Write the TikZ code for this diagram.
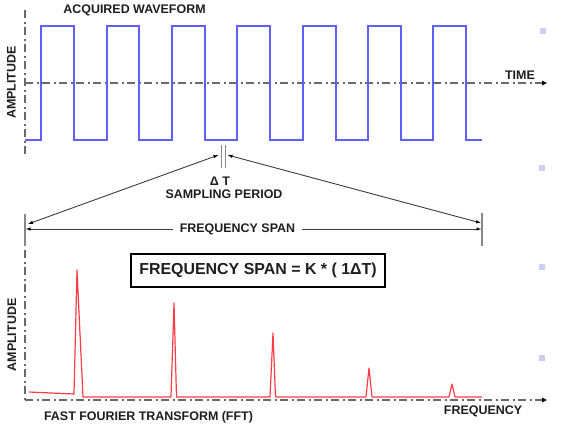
\documentclass[tikz,border=0pt]{standalone}
\usepackage{fontspec}
\setmainfont{Liberation Sans}
\usetikzlibrary{arrows.meta}
\definecolor{wave}{RGB}{95,95,250}
\definecolor{spec}{RGB}{255,60,70}
\definecolor{axisgray}{RGB}{105,105,105}
\definecolor{txt}{RGB}{30,30,30}
\definecolor{dotc}{RGB}{205,205,245}
\definecolor{arrowgray}{RGB}{60,60,60}
\begin{document}
\begin{tikzpicture}[x=1bp,y=-1bp,
  lbl/.style={font=\bfseries\fontsize{12.5}{14}\selectfont, text=txt, inner sep=0pt},
  dashdot/.style={draw=axisgray, line width=1.3bp, dash pattern=on 8bp off 3.5bp on 2bp off 3.5bp},
  axarrow/.style={-{Triangle[length=5bp,width=4.5bp,color=black]}},
  dimarrow/.style={draw=arrowgray, line width=0.9bp, {Latex[length=5bp,width=3.5bp,color=black]}-{Latex[length=5bp,width=3.5bp,color=black]}},
  tickline/.style={draw=axisgray!80, line width=1.1bp},
  wavepath/.style={draw=wave, line width=1.3bp},
  specpath/.style={draw=spec, line width=1.2bp},
  marker/.style={fill=dotc, draw=none, minimum size=6bp, inner sep=0pt}
]
\useasboundingbox (0,0) rectangle (566,432);

% ---------- top: acquired waveform ----------
\coordinate (tya) at (25,10);
\coordinate (tyb) at (25,155);
\coordinate (txa) at (25,83);
\coordinate (txb) at (547,83);
\draw[dashdot] (tya) -- (tyb);
\draw[dashdot, axarrow] (txa) -- (txb);

\draw[wavepath] (25,140) -- (41,140) -- (41,26) -- (74,26) -- (74,140)
  -- (107,140) -- (107,26) -- (139,26) -- (139,140)
  -- (172,140) -- (172,26) -- (205,26) -- (205,140)
  -- (237,140) -- (237,26) -- (270,26) -- (270,140)
  -- (303,140) -- (303,26) -- (336,26) -- (336,140)
  -- (368,140) -- (368,26) -- (401,26) -- (401,140)
  -- (433,140) -- (433,26) -- (466,26) -- (466,140) -- (482,140);

\node[lbl] (acq) at (134.5,10) {ACQUIRED WAVEFORM};
\node[lbl] (time) at (520,75) {TIME};
\node[lbl, rotate=90] (amp1) at (11.5,82.5) {AMPLITUDE};

% ---------- sampling period ----------
\coordinate (d1a) at (221,145);
\coordinate (d1b) at (221,168);
\coordinate (d2a) at (225,145);
\coordinate (d2b) at (225,168);
\draw[tickline, line width=0.9bp] (d1a) -- (d1b);
\draw[tickline, line width=0.9bp] (d2a) -- (d2b);

\node[lbl] (dt) at (220,181) {Δ T};
\node[lbl] (sp) at (224,194) {SAMPLING PERIOD};

\coordinate (lt) at (28,224);
\coordinate (lp) at (218.5,155);
\coordinate (rp) at (227.5,155);
\coordinate (rt) at (481,223);
\draw[dimarrow] (lt) -- (lp);
\draw[dimarrow] (rp) -- (rt);

% ---------- frequency span ----------
\coordinate (ta) at (25,214);
\coordinate (tb) at (25,246);
\coordinate (tc) at (482,213);
\coordinate (td) at (482,246);
\draw[tickline] (ta) -- (tb);
\draw[tickline] (tc) -- (td);
\coordinate (sl) at (25.5,229);
\coordinate (sr) at (481.5,229);
\node[lbl, inner xsep=7bp] (fs) at (237.5,229) {FREQUENCY SPAN};
\draw[dimarrow, {Latex[length=5bp,width=3.5bp,color=black]}-] (sl) -- (fs.west);
\draw[dimarrow, -{Latex[length=5bp,width=3.5bp,color=black]}] (fs.east) -- (sr);

\node[draw=black, line width=1.3bp, minimum width=254bp, minimum height=33bp, inner sep=0pt,
      font=\bfseries\fontsize{16}{18}\selectfont, text=txt] (box) at (258,270.5)
      {FREQUENCY SPAN = K * ( 1ΔT)};

% ---------- bottom: FFT ----------
\coordinate (bya) at (25,250);
\coordinate (byb) at (25,400);
\coordinate (bxb) at (547,400);
\draw[dashdot] (bya) -- (byb);
\draw[dashdot, axarrow] (byb) -- (bxb);

\draw[specpath, line join=round] (29,392) -- (74,394) -- (77,270) -- (83,397)
  -- (171,397) -- (174,303) -- (176.5,397)
  -- (270,397) -- (273,333) -- (275.5,397)
  -- (366,397) -- (369,368) -- (372,397)
  -- (449,397) -- (452,384) -- (455,397) -- (482,397);

\node[lbl, rotate=90] (amp2) at (12,335) {AMPLITUDE};
\node[lbl] (fft) at (148.5,417) {FAST FOURIER TRANSFORM (FFT)};
\node[lbl] (freq) at (483,411) {FREQUENCY};

% ---------- small markers ----------
\node[marker] (m1) at (543,31) {};
\node[marker] (m2) at (542,168) {};
\node[marker] (m3) at (542,267) {};
\node[marker] (m4) at (542,358) {};
\end{tikzpicture}
\end{document}
